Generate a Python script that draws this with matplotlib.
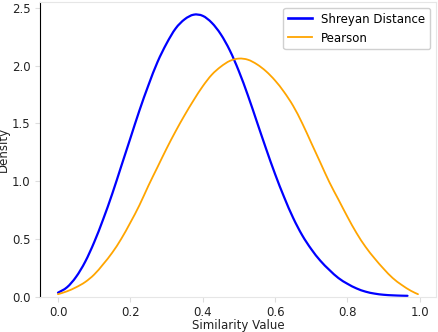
import matplotlib
matplotlib.use("Agg")
import matplotlib.pyplot as plt
from matplotlib.path import Path
from matplotlib.patches import PathPatch
from matplotlib.lines import Line2D

# Shreyan Distance density curve
shreyan_x = [0.0, 0.025, 0.05, 0.075, 0.1, 0.125, 0.15, 0.175, 0.2, 0.225, 0.25, 0.275,
             0.3, 0.325, 0.35, 0.375, 0.4, 0.425, 0.45, 0.475, 0.5, 0.525, 0.55, 0.575,
             0.6, 0.625, 0.65, 0.675, 0.7, 0.725, 0.75, 0.775, 0.8, 0.825, 0.85, 0.875,
             0.9, 0.925, 0.95, 0.966]
shreyan_y = [0.033, 0.08, 0.17, 0.30, 0.47, 0.67, 0.89, 1.13, 1.37, 1.61, 1.83, 2.03,
             2.19, 2.32, 2.40, 2.44, 2.43, 2.37, 2.27, 2.13, 1.95, 1.74, 1.51, 1.28,
             1.06, 0.86, 0.68, 0.53, 0.41, 0.31, 0.23, 0.16, 0.11, 0.07, 0.042, 0.025,
             0.015, 0.010, 0.007, 0.006]

# Pearson density curve
pearson_x = [0.0, 0.025, 0.05, 0.075, 0.1, 0.125, 0.15, 0.175, 0.2, 0.225, 0.25, 0.275,
             0.3, 0.325, 0.35, 0.375, 0.4, 0.425, 0.45, 0.475, 0.5, 0.525, 0.55, 0.575,
             0.6, 0.625, 0.65, 0.675, 0.7, 0.725, 0.75, 0.775, 0.8, 0.825, 0.85, 0.875,
             0.9, 0.925, 0.95, 0.975, 0.995]
pearson_y = [0.02, 0.045, 0.08, 0.125, 0.19, 0.28, 0.38, 0.50, 0.64, 0.79, 0.96, 1.12,
             1.28, 1.43, 1.57, 1.70, 1.82, 1.92, 1.99, 2.04, 2.06, 2.05, 2.01, 1.95,
             1.87, 1.77, 1.65, 1.50, 1.33, 1.16, 0.99, 0.84, 0.69, 0.55, 0.43, 0.33,
             0.24, 0.16, 0.10, 0.05, 0.02]

labels = ["Shreyan Distance", "Pearson"]
colors = ["blue", "orange"]
xticks = [0.0, 0.2, 0.4, 0.6, 0.8, 1.0]
yticks = [0.0, 0.5, 1.0, 1.5, 2.0, 2.5]


def smooth_path(xs, ys):
    """Catmull-Rom spline through the points, drawn as cubic Bezier segments."""
    n = len(xs)
    verts = [(xs[0], ys[0])]
    codes = [Path.MOVETO]
    for i in range(n - 1):
        x0, y0 = (xs[i - 1], ys[i - 1]) if i > 0 else (xs[i], ys[i])
        x1, y1 = xs[i], ys[i]
        x2, y2 = xs[i + 1], ys[i + 1]
        x3, y3 = (xs[i + 2], ys[i + 2]) if i + 2 < n else (xs[i + 1], ys[i + 1])
        c1 = (x1 + (x2 - x0) / 6.0, y1 + (y2 - y0) / 6.0)
        c2 = (x2 - (x3 - x1) / 6.0, y2 - (y3 - y1) / 6.0)
        verts += [c1, c2, (x2, y2)]
        codes += [Path.CURVE4] * 3
    return Path(verts, codes)


fig = plt.figure(figsize=(4.38, 3.32), dpi=100)
ax = fig.add_axes([40 / 438, (332 - 296.5) / 332, 396 / 438, 294.5 / 332])

series = [(shreyan_x, shreyan_y, 1.6), (pearson_x, pearson_y, 1.3)]
handles = []
for (xs, ys, lw), col, lab in zip(series, colors, labels):
    ax.add_patch(PathPatch(smooth_path(xs, ys), fill=False, edgecolor=col, lw=lw,
                           capstyle="round", joinstyle="round"))
    handles.append(Line2D([], [], color=col, lw=lw + 0.3 if col == "blue" else lw, label=lab))

all_x = shreyan_x + pearson_x
xpad = (max(all_x) - min(all_x)) * 0.05
ax.set_xlim(min(all_x) - xpad, max(all_x) + xpad)
ax.set_ylim(0, max(shreyan_y) * 1.045)
ax.set_xticks(xticks)
ax.set_yticks(yticks)

for s in ["top", "right", "bottom"]:
    ax.spines[s].set_color("#e6e6e6")
ax.spines["left"].set_color("black")
ax.tick_params(axis="both", colors="#dddddd", labelcolor="#222222", labelsize=8.5, length=3.5)

ax.set_xlabel("Similarity Value", fontsize=8.5, labelpad=0, color="#222222")
ax.set_ylabel("Density", fontsize=8.5, labelpad=1, color="#222222")

ax.legend(handles=handles, loc="upper right", fontsize=8.5, framealpha=1,
          edgecolor="#d0d0d0", borderaxespad=0.5, handlelength=2.0)

fig.savefig("out.png", dpi=100)
